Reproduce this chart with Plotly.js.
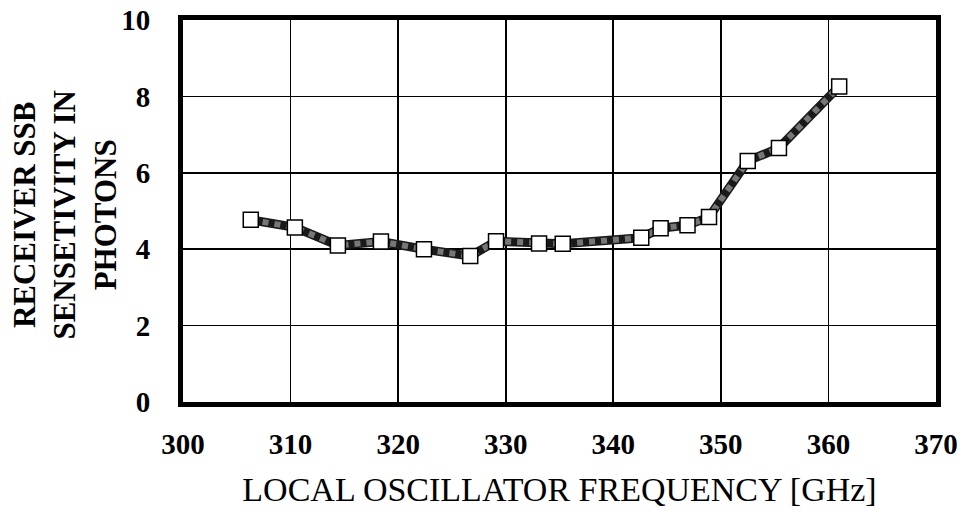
<!DOCTYPE html>
<html>
<head>
<meta charset="utf-8">
<script src="https://cdn.plot.ly/plotly-3.0.1.min.js"></script>
<style>html,body{margin:0;padding:0;background:#fff;}#chart{width:967px;height:512px;}</style>
</head>
<body>
<div id="chart"></div>
<script>
const frequencyGHz = [306.3, 310.4, 314.4, 318.4, 322.4, 326.7, 329.1, 333.1, 335.3, 342.6, 344.4, 346.9, 348.9, 352.5, 355.4, 361.0];
const sensitivityPhotons = [4.77, 4.57, 4.10, 4.20, 4.00, 3.82, 4.21, 4.15, 4.14, 4.30, 4.55, 4.63, 4.84, 6.31, 6.65, 8.26];
const xTickValues = [300, 310, 320, 330, 340, 350, 360, 370];
const yTickValues = [0, 2, 4, 6, 8, 10];
const xTitle = 'LOCAL OSCILLATOR FREQUENCY [GHz]';
const yTitle = 'RECEIVER SSB<br>SENSETIVITY IN<br>PHOTONS';

const serif = '"Liberation Serif", "Times New Roman", serif';

const traces = [
  {
    x: frequencyGHz, y: sensitivityPhotons, type: 'scatter', mode: 'lines',
    line: {color: '#1a1a1a', width: 9}, hoverinfo: 'skip', showlegend: false
  },
  {
    x: frequencyGHz, y: sensitivityPhotons, type: 'scatter', mode: 'lines+markers',
    line: {color: '#777', width: 6, dash: 'dot'},
    marker: {symbol: 'square', size: 15, color: '#fff', line: {color: '#000', width: 1.5}},
    showlegend: false
  }
];

const layout = {
  width: 967, height: 512,
  margin: {l: 183, r: 31, t: 20, b: 110},
  paper_bgcolor: '#fff', plot_bgcolor: '#fff',
  font: {family: serif, color: '#000'},
  xaxis: {
    range: [300, 370], tickvals: xTickValues, ticktext: xTickValues.map(String),
    showgrid: true, gridcolor: '#000', gridwidth: 1.6, zeroline: false,
    showline: true, linecolor: '#000', linewidth: 5, mirror: true,
    ticks: '', ticklabelstandoff: 12,
    tickfont: {family: serif, size: 29, color: '#000', weight: 'bold'},
    title: {text: xTitle, font: {family: serif, size: 34, color: '#000'}, standoff: 20}
  },
  yaxis: {
    range: [0, 10], tickvals: yTickValues, ticktext: yTickValues.map(String),
    showgrid: true, gridcolor: '#000', gridwidth: 1.6, zeroline: false,
    showline: true, linecolor: '#000', linewidth: 5, mirror: true,
    ticks: '', ticklabelstandoff: 22,
    tickfont: {family: serif, size: 29, color: '#000', weight: 'bold'},
    title: {text: ''}
  },
  annotations: [{
    text: '<b>' + yTitle + '</b>', xref: 'paper', yref: 'paper',
    x: -0.157, y: 0.49, xanchor: 'center', yanchor: 'middle', textangle: -90,
    showarrow: false, font: {family: serif, size: 31, color: '#000'}
  }]
};

Plotly.newPlot('chart', traces, layout, {displayModeBar: false, staticPlot: true});
</script>
</body>
</html>
